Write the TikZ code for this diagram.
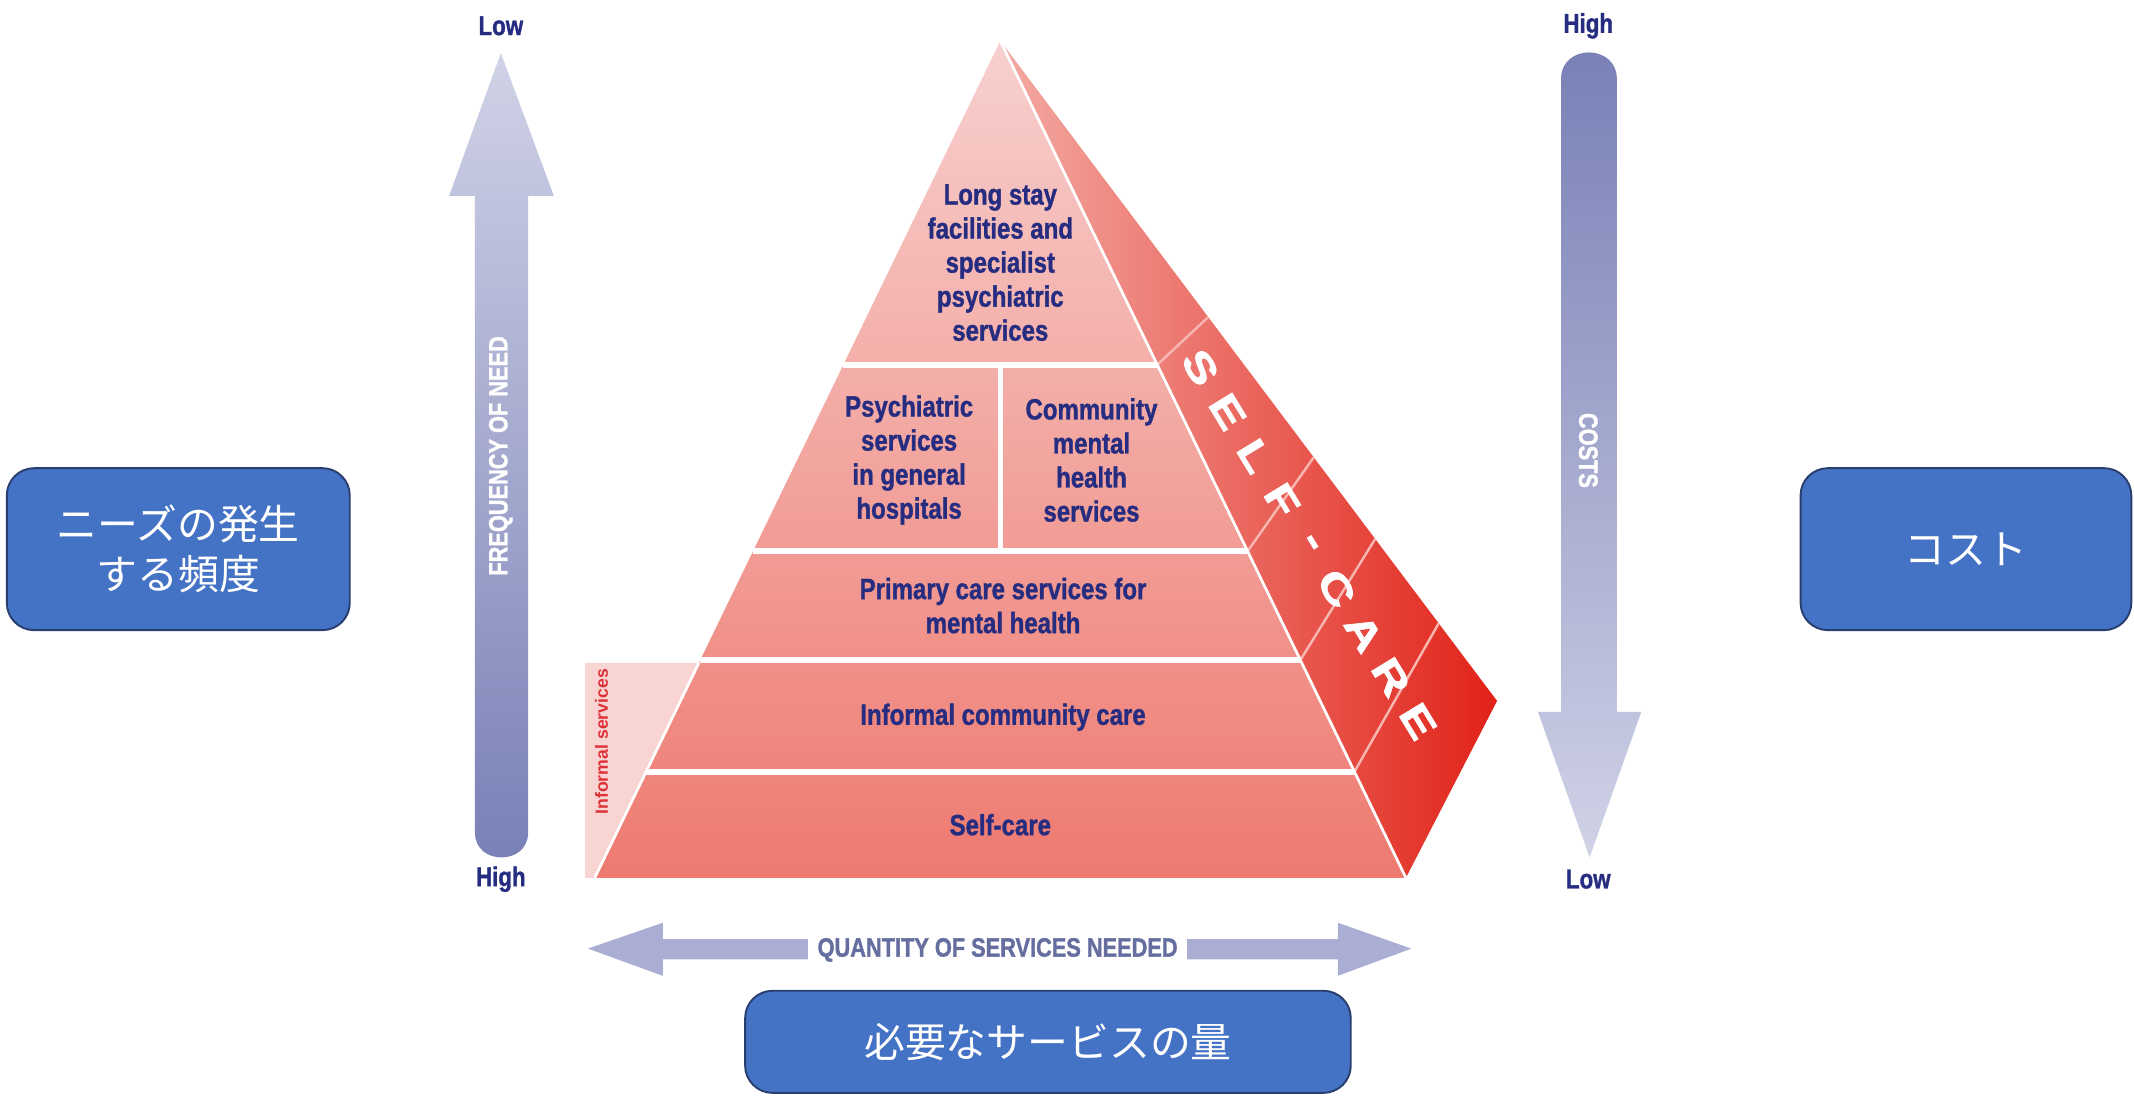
\documentclass[tikz,border=0pt]{standalone}
\usepackage{fontspec}
\setmainfont{Liberation Sans}
\newfontfamily\narrowfont[FakeStretch=0.82, BoldFeatures={FakeBold=1.2}]{Liberation Sans}
\newfontfamily\widefont[FakeStretch=1.3, BoldFeatures={FakeBold=1.8}]{Liberation Sans}
\newfontfamily\jpfont{Noto Sans CJK JP}
\usetikzlibrary{calc, positioning}

\definecolor{tiertext}{RGB}{38, 45, 128}
\definecolor{pyrtop}{RGB}{247, 208, 206}
\definecolor{pyrbottom}{RGB}{238, 122, 112}
\definecolor{sidelight}{RGB}{243, 170, 163}
\definecolor{sidedark}{RGB}{225, 34, 24}
\definecolor{sideline}{RGB}{248, 182, 176}
\definecolor{informalfill}{RGB}{248, 213, 211}
\definecolor{informaltext}{RGB}{220, 50, 56}
\definecolor{arrowlight}{RGB}{208, 210, 230}
\definecolor{arrowdark}{RGB}{120, 128, 182}
\definecolor{arrowflat}{RGB}{170, 174, 210}
\definecolor{quantitytext}{RGB}{102, 110, 160}
\definecolor{notefill}{RGB}{68, 114, 196}
\definecolor{noteborder}{RGB}{40, 62, 110}

\begin{document}
\begin{tikzpicture}[x=1pt, y=-1pt,
    tierlabel/.style={font=\narrowfont\bfseries\fontsize{21.5}{25}\selectfont, text=tiertext, align=center},
    levellabel/.style={font=\narrowfont\bfseries\fontsize{20}{22}\selectfont, text=tiertext},
    arrowtext/.style={font=\narrowfont\bfseries\fontsize{19.5}{22}\selectfont},
    notebox/.style={draw=noteborder, line width=1.4pt, fill=notefill, rounded corners=20pt,
        text=white, align=center, inner sep=0pt, font=\jpfont\fontsize{30}{37}\selectfont},
    tierdivider/.style={white, line width=4.5pt},
    sidedivider/.style={sideline, line width=1.8pt}]
    \useasboundingbox (0,0) rectangle (1568,805);

    % Frequency of need
    \shade[top color=arrowlight, bottom color=arrowdark]
        (349,144) -- (330,144) -- (368,39) -- (407,144) -- (388,144) -- (388,612)
        .. controls (388,636) and (349,636) .. (349,612) -- cycle;
    \node[arrowtext, text=white, rotate=90] (freq) at (368,335) {FREQUENCY OF NEED};
    \node[levellabel] (freqlow) at (368,19) {Low};
    \node[levellabel] (freqhigh) at (368,646) {High};

    % Costs
    \shade[top color=arrowdark, bottom color=arrowlight]
        (1147,58) .. controls (1147,32) and (1188,32) .. (1188,58) -- (1188,523)
        -- (1206,523) -- (1168,630) -- (1130,523) -- (1147,523) -- cycle;
    \node[arrowtext, text=white, rotate=-90] (costs) at (1167,331) {COSTS};
    \node[levellabel] (costhigh) at (1167,19) {High};
    \node[levellabel] (costlow) at (1167,646) {Low};

    % Quantity of services
    \fill[arrowflat] (432,697) -- (487,678) -- (487,690) -- (983,690) -- (983,678) -- (1037,697)
        -- (983,717) -- (983,705) -- (487,705) -- (487,717) -- cycle;
    \node[arrowtext, text=quantitytext, fill=white, inner xsep=7pt, inner ysep=6pt] (quantity) at (733,698) {QUANTITY OF SERVICES NEEDED};

    % Pyramid
    \coordinate (apex) at (735,30);
    \coordinate (baseL) at (437,645);
    \coordinate (baseR) at (1033,645);
    \coordinate (backR) at (1100,515);

    \fill[informalfill] (430,487) -- ($(apex)!0.7431!(baseL)$) -- (baseL) -- (430,645) -- cycle;
    \shade[top color=pyrtop, bottom color=pyrbottom] (apex) -- (baseL) -- (baseR) -- cycle;
    \shade[left color=sidelight, right color=sidedark] (apex) -- (backR) -- (baseR) -- cycle;
    \draw[white, line width=2pt] ($(apex)!0.7431!(baseL)$) -- (baseL);

    \foreach \yy/\yb in {268/233, 405/336, 485/396, 567/458} {
        \pgfmathsetmacro{\fpos}{(\yy-30)/615}
        \pgfmathsetmacro{\bpos}{(\yb-30)/485}
        \draw[tierdivider] ($(apex)!\fpos!(baseL)$) -- ($(apex)!\fpos!(baseR)$);
        \draw[sidedivider] ($(apex)!\fpos!(baseR)$) -- ($(apex)!\bpos!(backR)$);
    }
    \draw[tierdivider, line width=3.5pt] (735,268) -- (735,405);
    \draw[white, line width=2pt] (apex) -- (baseR);

    % Tier labels
    \node[tierlabel] (longstay) at (735,193) {Long stay\\facilities and\\specialist\\psychiatric\\services};
    \node[tierlabel] (general) at (668,338) {Psychiatric\\services\\in general\\hospitals};
    \node[tierlabel] (community) at (802,338) {Community\\mental\\health\\services};
    \node[tierlabel] (primary) at (737,445) {Primary care services for\\mental health};
    \node[tierlabel] (informal) at (737,527) {Informal community care};
    \node[tierlabel] (selfcare) at (735,606) {Self-care};
    \node[font=\bfseries\fontsize{13}{15}\selectfont, text=informaltext, rotate=90] (informalsvc) at (442,545) {Informal services};

    % Self-care along the side face
    \coordinate (scstart) at (882,270);
    \coordinate (scend) at (1042,530);
    \foreach \ch [count=\i from 0] in {S,E,L,F,-,C,A,R,E}
        \node[font=\widefont\bfseries\fontsize{29}{29}\selectfont, text=white, rotate=-58.6, inner sep=0pt] (sc\i) at ($(scstart)!\i/8!(scend)$) {\ch};

    % Japanese notes
    \node[notebox, minimum width=252pt, minimum height=119pt] (needbox) at (131,403.5) {ニーズの発生\\する頻度};
    \node[notebox, minimum width=243pt, minimum height=119pt] (costbox) at (1444.5,403.5) {コスト};
    \node[notebox, minimum width=445pt, minimum height=75pt] (qtybox) at (770,765.5) {必要なサービスの量};
\end{tikzpicture}
\end{document}
